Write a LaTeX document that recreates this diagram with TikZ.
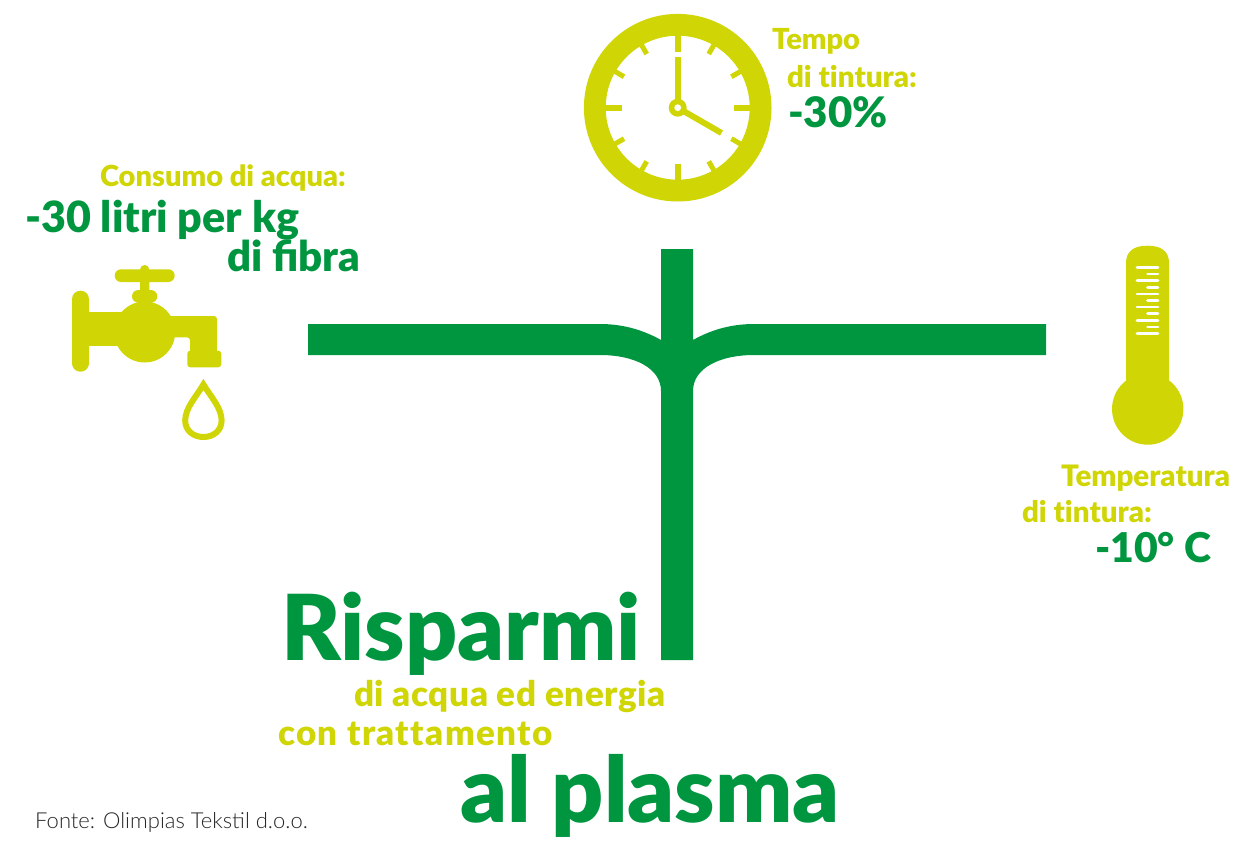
\documentclass[tikz,border=0pt]{standalone}
\usepackage{fontspec}
\usetikzlibrary{calc}
\setmainfont{Lato}
\newfontfamily\lightfont{Lato Light}
\newfontfamily\heavyfont[RawFeature={-liga}]{Lato Black}
\newfontfamily\heavyfontA[RawFeature={-liga},LetterSpace=1.7]{Lato Black}
\newfontfamily\heavyfontB[RawFeature={-liga},LetterSpace=4]{Lato Black}
\definecolor{lime}{HTML}{D0D506}
\definecolor{leaf}{HTML}{009640}
\tikzset{
  lab/.style={anchor=base west,inner sep=0pt,outer sep=0pt,font=\heavyfont\fontsize{#1}{#1}\selectfont},
  limelab/.style={lab=#1,text=lime},
  leaflab/.style={lab=#1,text=leaf},
  tick/.style={draw=lime,line width=6pt},
  minortick/.style={draw=lime,line width=5pt},
  scalemark/.style={draw=white,line width=2.7pt,line cap=round}
}
\begin{document}
\begin{tikzpicture}[x=1pt,y=-1pt]
\useasboundingbox (0,0) rectangle (1233,840);
% T connector
\fill[leaf] (308,324) -- (600,324) .. controls (625,324) and (645,331) .. (661,340) -- (661,249) -- (693,249) -- (693,340)
  .. controls (709,331) and (729,324) .. (754,324) -- (1046,324) -- (1046,355) -- (754,355)
  .. controls (720,355) and (693,368) .. (693,391) -- (693,660) -- (661,660) -- (661,391)
  .. controls (661,368) and (634,355) .. (600,355) -- (308,355) -- cycle;
% Clock
\coordinate (c) at (677.7,107.7);
\fill[lime,even odd rule] (c) circle (93.8) (c) circle (72);
\foreach \a in {0,90,180,270} \draw[tick] ($(c)+(\a:56)$) -- ($(c)+(\a:72.5)$);
\foreach \a in {30,60,120,150,210,240,300,330} \draw[minortick] ($(c)+(\a:62)$) -- ($(c)+(\a:72.5)$);
\draw[tick] (c) -- ++(0,-51);
\draw[tick] (c) -- ++(30:50.6);
\fill[lime] (c) circle (9);
\fill[white] (c) circle (3.4);
% Faucet
\fill[lime,rounded corners=8.4] (72,290.7) rectangle (89,371.7);
\fill[lime] (88,312) rectangle (130,346);
\fill[lime] (144.7,332) circle (30.5);
\fill[lime,rounded corners=3] (150,316) -- (217,316) -- (217,356) -- (190,356) -- (190,337.3) -- (150,337.3) -- cycle;
\fill[lime,rounded corners=3] (187.3,350.7) rectangle (221.3,367.3);
\fill[lime,rounded corners=6.3] (132,290) rectangle (157.3,302.7);
\fill[lime,rounded corners=4.6] (140,265) rectangle (149.3,295);
\fill[lime,rounded corners=6.3] (114.7,269.3) rectangle (174.7,282);
% Drop
\draw[lime,line width=6pt,line join=miter] (203.4,384.5) .. controls (196,397) and (185.2,408) .. (185.2,420.5) .. controls (185.2,430.5) and (193.2,437) .. (203.4,437) .. controls (213.6,437) and (221.6,430.5) .. (221.6,420.5) .. controls (221.6,408) and (211,397) .. (203.4,384.5) -- cycle;
% Thermometer
\fill[lime] (1126,400) -- (1126,263) .. controls (1126,251) and (1134,245.7) .. (1147.5,245.7) .. controls (1161,245.7) and (1169,251) .. (1169,263) -- (1169,400) -- cycle;
\fill[lime] (1147.7,409) circle (35.7);
\foreach \y in {267.3,280.7,294,307,320.3,333.7} \draw[scalemark] (1137,\y) -- (1158,\y);
\foreach \y in {274,287.3,300.7,313.7,327} \draw[scalemark] (1147.5,\y) -- (1158,\y);
% Texts
\node[limelab=29] (t1) at (772,50) {Tempo};
\node[limelab=29.5] (t2) at (787,88) {di tintura:};
\node[leaflab=42] (t3) at (788,128) {-30\%};
\node[limelab=29] (w1) at (100,186) {Consumo di acqua:};
\node[leaflab=43] (w2) at (25,232) {-30 litri per kg};
\node[leaflab=42] (w3) at (227,271) {di ﬁbra};
\node[limelab=29.5] (h1) at (1061,486) {Temperatura};
\node[limelab=29.5] (h2) at (1022,522) {di tintura:};
\node[leaflab=41] (h3) at (1095,562) {-10° C};
\node[leaflab=91] (r1) at (281,660) {Risparmi};
\node[lab=35,text=lime,font=\heavyfontA\fontsize{35}{35}\selectfont] (r2) at (354,706) {di acqua ed energia};
\node[lab=35,text=lime,font=\heavyfontB\fontsize{35}{35}\selectfont] (r3) at (278,745) {con trattamento};
\node[leaflab=91] (r4) at (460,822) {al plasma};
\node[anchor=base west,inner sep=0pt,font=\lightfont\fontsize{22}{22}\selectfont,text=black!85] (src) at (35,828) {Fonte: Olimpias Tekstil d.o.o.};
\end{tikzpicture}
\end{document}
